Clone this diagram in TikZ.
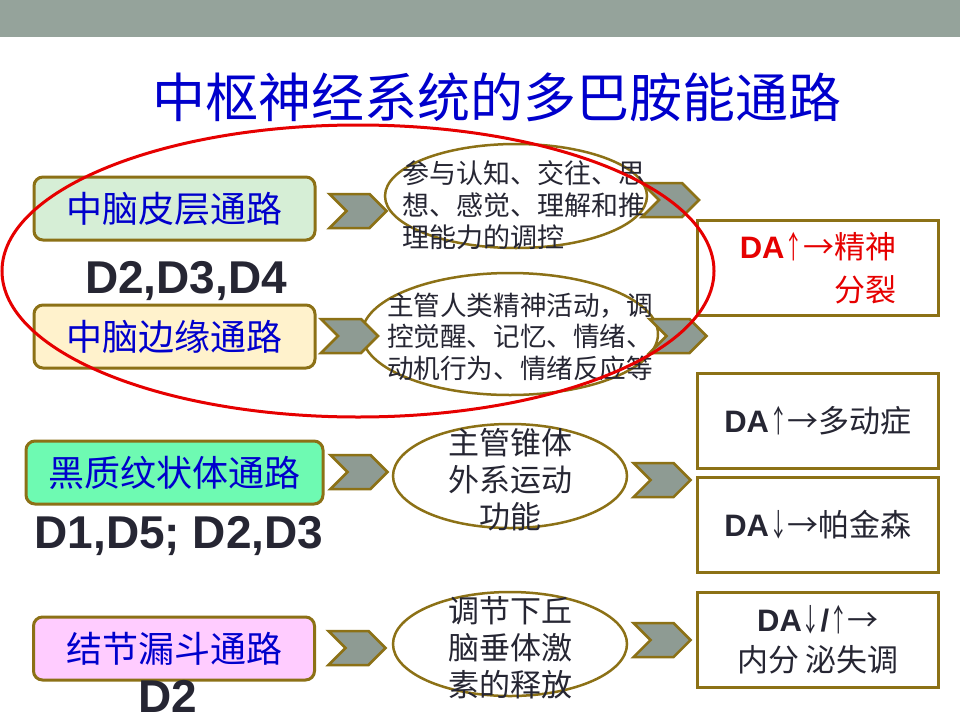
\documentclass[tikz,border=0pt]{standalone}
\usepackage{fontspec}
\usepackage{graphicx}
\setmainfont{Liberation Sans}
\newfontfamily\cjk{Noto Sans CJK SC}
\usetikzlibrary{shapes.geometric,shapes.symbols}

\definecolor{bar}{RGB}{149,163,155}
\definecolor{rim}{RGB}{140,113,22}
\definecolor{chev}{RGB}{142,155,147}
\definecolor{pathblue}{RGB}{0,0,204}
\definecolor{ink}{RGB}{38,38,51}
\definecolor{alarm}{RGB}{230,0,0}
\definecolor{fillA}{RGB}{214,238,214}
\definecolor{fillB}{RGB}{255,242,204}
\definecolor{fillC}{RGB}{110,250,178}
\definecolor{fillD}{RGB}{255,204,255}

\newcommand\arup{\scalebox{0.6}[1]{\cjk ↑}}
\newcommand\ardown{\scalebox{0.6}[1]{\cjk ↓}}
\newcommand\arright{{\cjk →}}

\tikzset{pathbox/.style = {shape = rectangle,
                           rounded corners = 9pt,
                           draw = rim,
                           line width = 3pt,
                           minimum width = 281pt,
                           minimum height = 63pt,
                           inner sep = 0pt,
                           text = pathblue,
                           font = \cjk\fontsize{36}{43}\selectfont}}

\begin{document}
\begin{tikzpicture}[x = 1pt, y = -1pt,
                    chevron/.style = {shape = signal,
                                      signal from = west,
                                      signal to = east,
                                      draw = rim,
                                      fill = chev,
                                      line width = 2.5pt,
                                      minimum width = 57pt,
                                      minimum height = 34pt,
                                      inner sep = 0pt},
                    bubble/.style = {shape = ellipse,
                                     draw = rim,
                                     fill = white,
                                     line width = 2.5pt,
                                     inner sep = 0pt},
                    note/.style = {text = ink,
                                   inner sep = 0pt},
                    effect/.style = {shape = rectangle,
                                     draw = rim,
                                     fill = white,
                                     line width = 3pt,
                                     minimum width = 241pt,
                                     minimum height = 95pt,
                                     inner sep = 0pt,
                                     text = ink,
                                     align = center,
                                     font = \fontsize{31}{40}\selectfont},
                    rcpt/.style = {text = ink,
                                   anchor = base,
                                   inner sep = 0pt,
                                   font = \bfseries\fontsize{46}{50}\selectfont},
                    ring/.style = {shape = ellipse,
                                   draw = alarm,
                                   line width = 3pt,
                                   minimum width = 712pt,
                                   minimum height = 292pt,
                                   inner sep = 0pt}]
		\useasboundingbox (0,0) rectangle (960,720);
		\fill[white] (0,0) rectangle (960,720);
		\fill[bar] (0,0) rectangle (960,37);
		\node[text = pathblue, font = \cjk\fontsize{53}{60}\selectfont] (title) at (497,97) {中枢神经系统的多巴胺能通路};

		% pathways
		\node[pathbox, fill = fillA] (p1) at (174.5,208.5) {中脑皮层通路};
		\node[pathbox, fill = fillB] (p2) at (174.5,336.5) {中脑边缘通路};
		\node[pathbox, fill = fillC, minimum width = 297pt] (p3) at (174.5,472.5) {黑质纹状体通路};
		\node[pathbox, fill = fillD] (p4) at (174,648.5) {结节漏斗通路};
		\node[rcpt] (d1) at (186,293) {D2,D3,D4};
		\node[rcpt] (d2) at (179,548) {D1,D5; D2,D3};
		\node[rcpt] (d3) at (167.5,712) {D2};

		% functions
		\node[bubble, minimum width = 262pt, minimum height = 104pt] (e1) at (516,196) {};
		\node[bubble, minimum width = 296pt, minimum height = 122pt] (e2) at (510,334) {};
		\node[bubble, minimum width = 234pt, minimum height = 104pt] (e3) at (510,476) {};
		\node[bubble, minimum width = 234pt, minimum height = 104pt] (e4) at (510,644) {};
		\node[note, align = left, font = \cjk\fontsize{27}{32}\selectfont] (t1) at (523.5,205) {参与认知、交往、思\\想、感觉、理解和推\\理能力的调控};
		\node[note, align = left, font = \cjk\fontsize{26.6}{31.5}\selectfont] (t2) at (520,336.5) {主管人类精神活动，调\\控觉醒、记忆、情绪、\\动机行为、情绪反应等};
		\node[note, align = center, font = \cjk\fontsize{31}{37}\selectfont] (t3) at (510,480) {主管锥体\\外系运动\\功能};
		\node[note, align = center, font = \cjk\fontsize{31}{37}\selectfont] (t4) at (510,648) {调节下丘\\脑垂体激\\素的释放};

		% chevrons
		\node[chevron] (c1) at (358,211) {};
		\node[chevron] (c2) at (670.5,200) {};
		\node[chevron] (c3) at (349.5,336) {};
		\node[chevron] (c4) at (678,336) {};
		\node[chevron] (c5) at (359,472) {};
		\node[chevron] (c6) at (662,480) {};
		\node[chevron] (c7) at (357,648) {};
		\node[chevron] (c8) at (662,640) {};

		% effects
		\node[effect, text = alarm, align = right, font = \fontsize{31}{43}\selectfont] (r1) at (818,268) {\textbf{DA}\arup\arright{\cjk 精神}\\{\cjk 分裂}};
		\node[effect] (r2) at (818,421) {\textbf{DA}\arup\arright{\cjk 多动症}};
		\node[effect] (r3) at (818,525) {\textbf{DA}\ardown\arright{\cjk 帕金森}};
		\node[effect] (r4) at (818,640) {\textbf{DA}\ardown\textbf{/}\arup\arright\\{\cjk 内分 泌失调}};

		\node[ring] (grp) at (358,271) {};
	\end{tikzpicture}
\end{document}
